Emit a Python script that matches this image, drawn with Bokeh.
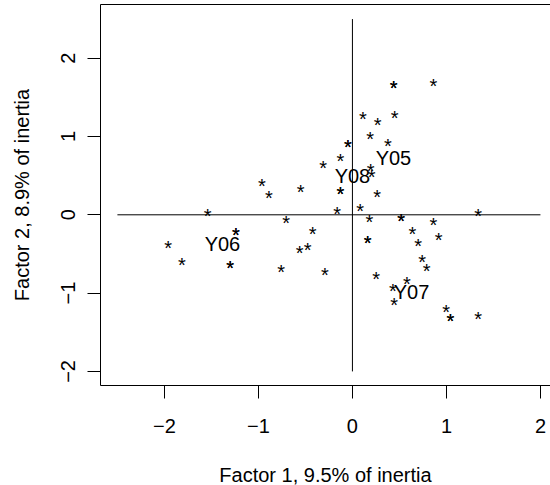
from bokeh.plotting import figure
from bokeh.models import Range1d, FixedTicker, LinearAxis, ColumnDataSource
from bokeh.core.properties import value
from bokeh.embed import file_html
from bokeh.resources import INLINE

# Observations (factor 1, factor 2)
obs_x = [-0.312, -0.963, -0.551, -0.890, -0.048, -0.048, -0.128, -0.128, -0.128,
         -1.539, -0.163, 0.083, -0.705, -1.239, -1.239, -0.422, -0.476, -0.562,
         -1.961, -1.814, -1.301, -1.301, -0.759, -0.293, 0.439, 0.439, 0.862,
         0.110, 0.269, 0.450, 0.188, 0.376, 0.195, 0.205, 0.263, 0.181, 0.518,
         0.518, 0.862, 1.337, 0.638, 0.918, 0.163, 0.163, 0.699, 0.741, 0.790,
         0.252, 0.578, 0.430, 0.444, 0.997, 1.043, 1.043, 1.337]
obs_y = [0.664, 0.434, 0.359, 0.281, 0.930, 0.930, 0.754, 0.332, 0.332,
         0.051, 0.077, 0.116, -0.038, -0.192, -0.192, -0.179, -0.383, -0.421,
         -0.358, -0.571, -0.613, -0.613, -0.664, -0.702, 1.686, 1.686, 1.711,
         1.290, 1.215, 1.303, 1.036, 0.945, 0.617, 0.549, 0.295, -0.022, -0.018,
         -0.018, -0.064, 0.051, -0.179, -0.252, -0.294, -0.294, -0.332, -0.536, -0.651,
         -0.750, -0.826, -0.904, -1.091, -1.175, -1.290, -1.290, -1.273]

# Year labels
year_labels = ["Y05", "Y06", "Y07", "Y08"]
year_x = [0.436, -1.383, 0.628, 0.000]
year_y = [0.723, -0.377, -0.990, 0.500]

# Reference axes lines
h_x = [-2.5, 2.0]
h_y = [0.0, 0.0]
v_x = [0.0, 0.0]
v_y = [-2.0, 2.5]

tick_vals = [-2, -1, 0, 1, 2]
tick_text = {-2: "\u22122", -1: "\u22121", 0: "0", 1: "1", 2: "2"}

FONT = "Liberation Sans"
FS = "20px"

p = figure(frame_width=450, frame_height=381,
           min_border_left=100, min_border_right=0, min_border_top=4, min_border_bottom=100,
           x_range=Range1d(-2.68, 2.107), y_range=Range1d(-2.18, 2.686),
           output_backend="svg", toolbar_location=None, tools="")
p.grid.visible = False
p.outline_line_color = None
p.background_fill_color = "white"
p.border_fill_color = "white"

for ax in (p.xaxis[0], p.yaxis[0]):
    ax.ticker = FixedTicker(ticks=tick_vals)
    ax.major_label_overrides = tick_text
    ax.minor_tick_line_color = None
    ax.major_tick_in = 0
    ax.major_tick_out = 13
    ax.axis_line_color = "black"
    ax.major_tick_line_color = "black"
    ax.major_label_text_font = FONT
    ax.major_label_text_font_size = FS
    ax.major_label_text_color = "black"
    ax.axis_label_text_font = FONT
    ax.axis_label_text_font_size = FS
    ax.axis_label_text_font_style = "normal"
    ax.axis_label_text_color = "black"

p.xaxis[0].axis_label = "Factor 1, 9.5% of inertia"
p.yaxis[0].axis_label = "Factor 2, 8.9% of inertia"
p.xaxis[0].major_label_standoff = 20
p.xaxis[0].axis_label_standoff = 28
p.yaxis[0].major_label_standoff = 12
p.yaxis[0].major_label_orientation = "vertical"
p.yaxis[0].axis_label_standoff = 26

top = LinearAxis(ticker=FixedTicker(ticks=[]), major_tick_out=0, major_tick_in=0,
                 minor_tick_out=0, minor_tick_in=0, major_label_standoff=0,
                 major_label_text_font_size="0px", axis_line_color="black")
p.add_layout(top, "above")

p.line(h_x, h_y, line_color="black", line_width=1)
p.line(v_x, v_y, line_color="black", line_width=1)

src = ColumnDataSource(dict(x=obs_x, y=obs_y, t=["*"] * len(obs_x)))
p.text(x="x", y="y", text="t", source=src, text_align="center", text_baseline="middle",
       text_font=value(FONT), text_font_size=FS, text_color="black", y_offset=5)

lab = ColumnDataSource(dict(x=year_x, y=year_y, t=year_labels))
p.text(x="x", y="y", text="t", source=lab, text_align="center", text_baseline="middle",
       text_font=value(FONT), text_font_size=FS, text_color="black")

open("out.html", "w").write(file_html(p, INLINE))
